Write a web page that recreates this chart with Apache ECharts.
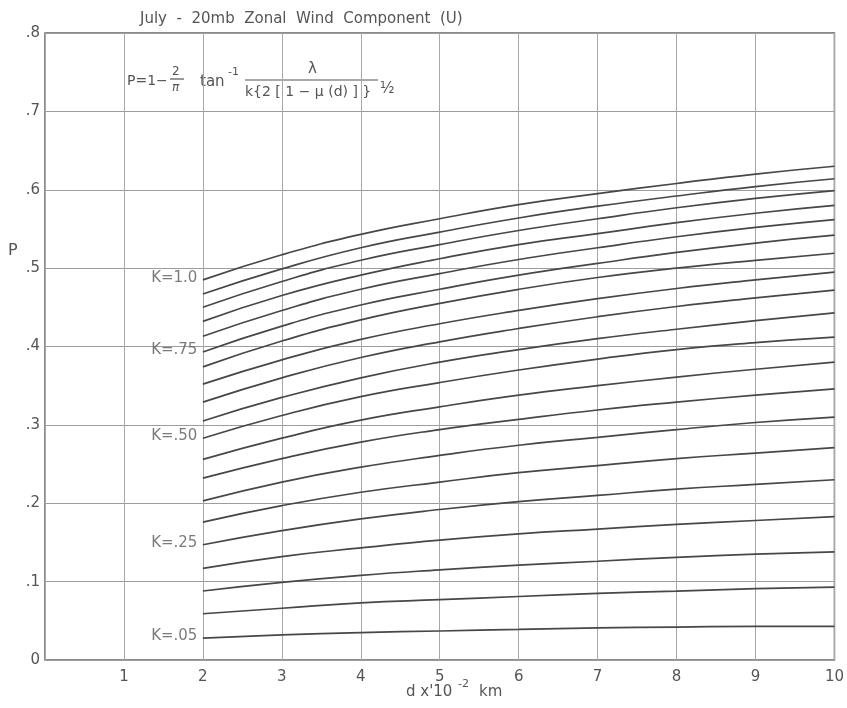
<!DOCTYPE html>
<html>
<head>
<meta charset="utf-8">
<script src="https://cdn.jsdelivr.net/npm/echarts@6/dist/echarts.min.js"></script>
<style>
  html, body { margin: 0; padding: 0; background: #fff; }
  #chart { width: 847px; height: 708px; }
</style>
</head>
<body>
<div id="chart"></div>
<script>
// Distance d (x 10^-2 km) at which each curve is tabulated
const dValues = [2, 3, 4, 5, 6, 7, 8, 9, 10];

// P for each value of k
const pK100 = [0.485, 0.517, 0.543, 0.563, 0.581, 0.595, 0.608, 0.620, 0.630];
const pK095 = [0.467, 0.499, 0.526, 0.546, 0.564, 0.579, 0.592, 0.604, 0.614];
const pK090 = [0.450, 0.483, 0.510, 0.530, 0.548, 0.563, 0.577, 0.589, 0.599];
const pK085 = [0.432, 0.465, 0.491, 0.512, 0.530, 0.544, 0.558, 0.570, 0.580];
const pK080 = [0.413, 0.446, 0.473, 0.493, 0.511, 0.526, 0.540, 0.552, 0.562];
const pK075 = [0.393, 0.426, 0.453, 0.473, 0.491, 0.506, 0.520, 0.532, 0.542];
const pK070 = [0.374, 0.407, 0.434, 0.455, 0.473, 0.488, 0.500, 0.510, 0.519];
const pK065 = [0.352, 0.383, 0.409, 0.429, 0.446, 0.461, 0.474, 0.485, 0.495];
const pK060 = [0.329, 0.360, 0.386, 0.406, 0.423, 0.438, 0.451, 0.462, 0.472];
const pK055 = [0.305, 0.335, 0.360, 0.380, 0.396, 0.410, 0.422, 0.433, 0.443];
const pK050 = [0.283, 0.312, 0.336, 0.354, 0.370, 0.384, 0.396, 0.405, 0.412];
const pK045 = [0.256, 0.283, 0.306, 0.323, 0.338, 0.350, 0.361, 0.371, 0.380];
const pK040 = [0.232, 0.257, 0.278, 0.294, 0.307, 0.319, 0.329, 0.338, 0.346];
const pK035 = [0.203, 0.227, 0.246, 0.261, 0.274, 0.284, 0.294, 0.303, 0.310];
const pK030 = [0.176, 0.197, 0.214, 0.227, 0.239, 0.248, 0.257, 0.264, 0.271];
const pK025 = [0.147, 0.165, 0.180, 0.192, 0.202, 0.210, 0.218, 0.224, 0.230];
const pK020 = [0.117, 0.132, 0.143, 0.153, 0.161, 0.167, 0.173, 0.178, 0.183];
const pK015 = [0.088, 0.099, 0.108, 0.115, 0.121, 0.126, 0.131, 0.135, 0.138];
const pK010 = [0.059, 0.066, 0.073, 0.077, 0.081, 0.085, 0.088, 0.091, 0.093];
const pK005 = [0.028, 0.032, 0.035, 0.037, 0.039, 0.041, 0.042, 0.043, 0.043];

const kValues = [1.0, 0.95, 0.9, 0.85, 0.8, 0.75, 0.7, 0.65, 0.6, 0.55,
                 0.5, 0.45, 0.4, 0.35, 0.3, 0.25, 0.2, 0.15, 0.1, 0.05];
const curves = [pK100, pK095, pK090, pK085, pK080, pK075, pK070, pK065, pK060, pK055,
                pK050, pK045, pK040, pK035, pK030, pK025, pK020, pK015, pK010, pK005];

// Curves that carry a "K=" label at their left end
const labelledK = [1.0, 0.75, 0.5, 0.25, 0.05];
const labelText = ['K=1.0', 'K=.75', 'K=.50', 'K=.25', 'K=.05'];

// Axis tick labels
const xTickLabels = ['', '1', '2', '3', '4', '5', '6', '7', '8', '9', '10'];
const yTickLabels = ['0', '.1', '.2', '.3', '.4', '.5', '.6', '.7', '.8'];

const INK = '#555';
const FONT = '"DejaVu Sans", "Liberation Sans", sans-serif';

const series = curves.map((vals, i) => ({
  type: 'line', name: 'K=' + kValues[i],
  data: vals.map((p, j) => [dValues[j], p]),
  smooth: true, symbol: 'none', silent: true, animation: false,
  lineStyle: { color: '#474747', width: 1.7 }
}));

// K= labels placed just left of each labelled curve's first point
series.push({
  type: 'scatter', silent: true, animation: false,
  symbolSize: 1, itemStyle: { color: 'rgba(0,0,0,0)' },
  data: labelledK.map((k, i) => {
    const vals = curves[kValues.indexOf(k)];
    return { value: [dValues[0], vals[0]], name: labelText[i] };
  }),
  label: {
    show: true, position: 'left', distance: 5, offset: [0, -2],
    formatter: p => p.name, color: '#5a5a5a', fontSize: 15, fontFamily: FONT
  }
});

const chart = echarts.init(document.getElementById('chart'), null, { renderer: 'canvas' });

const fracLine = (x1, x2, y) => ({
  type: 'line', shape: { x1, y1: y, x2, y2: y },
  style: { stroke: INK, lineWidth: 1.2 }
});
const txt = (x, y, text, size, extra) => ({
  type: 'text', x, y,
  style: Object.assign({ text, fill: INK, fontSize: size, fontFamily: FONT,
                         textVerticalAlign: 'middle' }, extra || {})
});

chart.setOption({
  animation: false,
  backgroundColor: '#fff',
  grid: { left: 45, right: 11, top: 33, bottom: 48, show: true,
          borderColor: '#666', borderWidth: 1.5, backgroundColor: 'transparent' },
  xAxis: {
    type: 'value', min: 0, max: 10, interval: 1,
    axisLine: { show: false }, axisTick: { show: false },
    axisLabel: { color: INK, fontSize: 15, fontFamily: FONT, margin: 10,
                 formatter: v => xTickLabels[Math.round(v)] },
    splitLine: { show: true, lineStyle: { color: '#a8a8a8', width: 1 } }
  },
  yAxis: {
    type: 'value', min: 0, max: 0.8, interval: 0.1,
    axisLine: { show: false }, axisTick: { show: false },
    axisLabel: { color: INK, fontSize: 15, fontFamily: FONT, margin: 5,
                 formatter: v => yTickLabels[Math.round(v * 10)] },
    splitLine: { show: true, lineStyle: { color: '#9c9c9c', width: 1 } }
  },
  graphic: [
    txt(140, 19, 'July  -  20mb  Zonal  Wind  Component  (U)', 15),
    // axis names
    txt(8, 251, 'P', 16),
    txt(406, 692, 'd x\'10', 15),
    txt(458, 684, '-2', 11),
    txt(479, 692, 'km', 15),
    // P = 1 - (2/pi) tan^-1 [ lambda / k{2[1 - mu(d)]}^(1/2) ]
    txt(127, 81, 'P=1\u2212', 14),
    txt(172, 72, '2', 12),
    fracLine(170, 184, 79),
    txt(172, 88, '\u03c0', 12, { fontStyle: 'italic' }),
    txt(200, 82, 'tan', 15),
    txt(228, 72, '-1', 11),
    txt(308, 69, '\u03bb', 15),
    fracLine(245, 378, 80),
    txt(245, 92, 'k{2 [ 1 \u2212 \u03bc (d) ] }', 14),
    txt(380, 89, '\u00bd', 15)
  ],
  series
});
</script>
</body>
</html>
